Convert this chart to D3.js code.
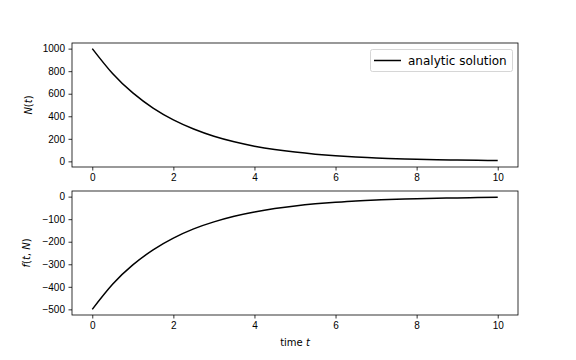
<!DOCTYPE html>
<html>
<head>
    <meta charset="utf-8">
    <title>Decay</title>
    <script type="text/javascript" src="https://cdn.jsdelivr.net/npm/d3@7"></script>
    <style type="text/css">
        body { margin: 0; background: #fff; }
        svg { font-family: "DejaVu Sans", sans-serif; }
        .tick text { font-size: 10px; fill: #000; }
        .tick line { stroke: #000; stroke-width: 0.8px; }
        .domain { display: none; }
        .frame { fill: none; stroke: #000; stroke-width: 0.8px; }
        .curve { fill: none; stroke: #000; stroke-width: 1.5px; }
    </style>
</head>
<body>
<script type="text/javascript">
    // values, t = 0, 0.5, ..., 10
    var tValues = [0, 0.5, 1, 1.5, 2, 2.5, 3, 3.5, 4, 4.5, 5, 5.5, 6, 6.5, 7, 7.5, 8, 8.5, 9, 9.5, 10];
    var nValues = [1000, 779, 607, 472, 368, 287, 223, 174, 135, 105, 82, 64, 50, 39, 30, 24, 18, 14, 11, 9, 7];
    var fValues = [-500, -389, -303, -236, -184, -143, -112, -87, -68, -53, -41, -32, -25, -19, -15, -12, -9, -7, -6, -4, -3];

    var xTicks = [0, 2, 4, 6, 8, 10];
    var nTicks = [0, 200, 400, 600, 800, 1000];
    var fTicks = [-500, -400, -300, -200, -100, 0];
    var legendLabel = "analytic solution";

    var width = 576, height = 360;
    var left = 72, right = 518;

    var svg = d3.select("body").append("svg")
            .attr("width", width)
            .attr("height", height);

    var x = d3.scaleLinear().domain([-0.5, 10.5]).range([left, right]);

    function panel(top, bottom, ys, domain, ticks, label) {
        var y = d3.scaleLinear().domain(domain).range([bottom, top]);
        var g = svg.append("g");

        g.append("g")
                .attr("transform", "translate(0," + bottom + ")")
                .call(d3.axisBottom(x).tickValues(xTicks).tickSize(3.5).tickPadding(3.5)
                        .tickFormat(function (d) { return d3.format("d")(d); }));

        g.append("g")
                .attr("transform", "translate(" + left + ",0)")
                .call(d3.axisLeft(y).tickValues(ticks).tickSize(3.5).tickPadding(3.5)
                        .tickFormat(function (d) { return d < 0 ? "\u2212" + Math.abs(d) : d; }));

        var line = d3.line()
                .x(function (d, i) { return x(tValues[i]); })
                .y(function (d) { return y(d); })
                .curve(d3.curveNatural);

        g.append("path").attr("class", "curve").attr("d", line(ys));

        g.append("rect").attr("class", "frame")
                .attr("x", left).attr("y", top)
                .attr("width", right - left).attr("height", bottom - top);

        var lab = g.append("text")
                .attr("transform", "translate(32," + (top + bottom) / 2 + ") rotate(-90)")
                .attr("text-anchor", "middle")
                .style("font-size", "10px");
        label(lab);
        return y;
    }

    panel(43, 167, nValues, [-50, 1050], nTicks, function (t) {
        t.append("tspan").style("font-style", "italic").text("N");
        t.append("tspan").text("(");
        t.append("tspan").style("font-style", "italic").text("t");
        t.append("tspan").text(")");
    });

    panel(191, 315, fValues, [-525, 25], fTicks, function (t) {
        t.attr("transform", "translate(30,253) rotate(-90)");
        t.append("tspan").style("font-style", "italic").text("f");
        t.append("tspan").text("(");
        t.append("tspan").style("font-style", "italic").text("t");
        t.append("tspan").text(", ");
        t.append("tspan").style("font-style", "italic").text("N");
        t.append("tspan").text(")");
    });

    var xl = svg.append("text")
            .attr("x", (left + right) / 2).attr("y", 346)
            .attr("text-anchor", "middle")
            .style("font-size", "10px");
    xl.append("tspan").text("time ");
    xl.append("tspan").style("font-style", "italic").text("t");

    // legend
    var lg = svg.append("g");
    lg.append("rect")
            .attr("x", 370.5).attr("y", 49.5).attr("width", 142).attr("height", 22)
            .attr("rx", 2)
            .attr("fill", "#fff").attr("stroke", "#ccc").attr("stroke-width", 0.8);
    lg.append("line")
            .attr("x1", 374).attr("x2", 401).attr("y1", 60.5).attr("y2", 60.5)
            .attr("class", "curve");
    lg.append("text")
            .attr("x", 408).attr("y", 65)
            .style("font-size", "12px")
            .text(legendLabel);
</script>
</body>
</html>
